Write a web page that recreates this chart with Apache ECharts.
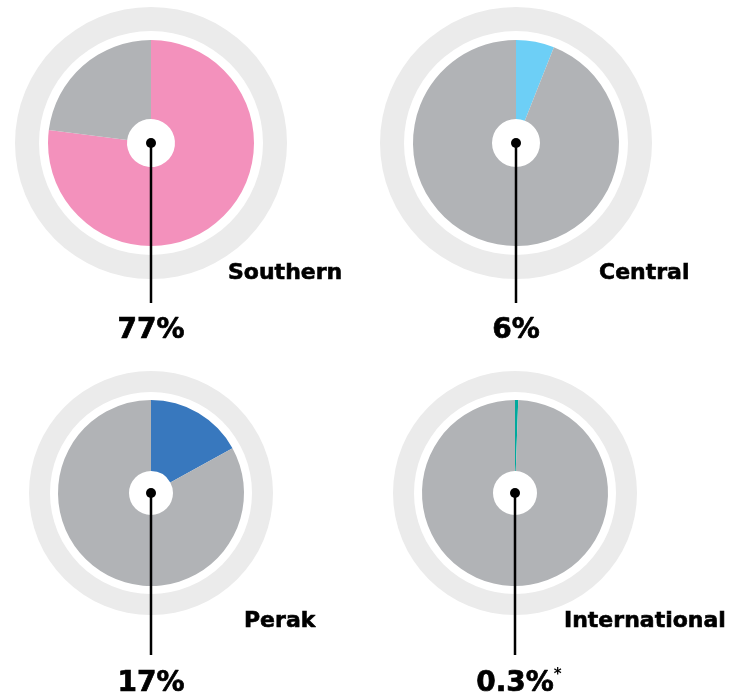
<!DOCTYPE html>
<html>
<head>
<meta charset="utf-8">
<title>Share by region</title>
<script src="https://cdn.jsdelivr.net/npm/echarts@6/dist/echarts.min.js"></script>
<style>
  html, body { margin: 0; padding: 0; background: #ffffff; }
  #chart { width: 741px; height: 697px; }
</style>
</head>
<body>
<div id="chart"></div>
<script>
// -- Data --
const regions = ['Southern', 'Central', 'Perak', 'International'];
const shares = [77, 6, 17, 0.3];
const shareLabels = ['77%', '6%', '17%', '0.3%'];
const footnotes = ['', '', '', '*'];
const sliceColors = ['#f391bc', '#6dcff6', '#3878be', '#00a99d'];

// -- Colours --
const REST_GRAY = '#b1b3b6';
const RING_GRAY = '#ebebeb';
const INK = '#000000';
const FONT = '"DejaVu Sans", "Liberation Sans", sans-serif';

// -- Layout per panel (pixels) --
const panels = [
  { cx: 151, cy: 143, ring: [112, 136], pie: [24, 103], lineEnd: 303, nameX: 228, nameY: 273, valueY: 331 },
  { cx: 516, cy: 143, ring: [112, 136], pie: [24, 103], lineEnd: 303, nameX: 599, nameY: 273, valueY: 331 },
  { cx: 151, cy: 493, ring: [101, 122], pie: [22, 93], lineEnd: 655, nameX: 244, nameY: 621, valueY: 684 },
  { cx: 515, cy: 493, ring: [101, 122], pie: [22, 93], lineEnd: 655, nameX: 564, nameY: 621, valueY: 684 }
];

// heavier-looking type: a thin outline in the same ink
const heavy = { stroke: INK, lineWidth: 0.7 };

const series = [];
const graphic = [];

regions.forEach((name, i) => {
  const p = panels[i];

  // pale outer ring
  series.push({
    type: 'pie',
    silent: true,
    center: [p.cx, p.cy],
    radius: p.ring,
    label: { show: false },
    labelLine: { show: false },
    itemStyle: { color: RING_GRAY },
    data: [{ value: 1, name: name + ' ring' }]
  });

  // share vs. rest (minAngle keeps the tiny slice visible)
  series.push({
    type: 'pie',
    silent: true,
    center: [p.cx, p.cy],
    radius: p.pie,
    startAngle: 90,
    clockwise: true,
    minAngle: 2,
    label: { show: false },
    labelLine: { show: false },
    itemStyle: { borderWidth: 0 },
    data: [
      { value: shares[i], name: name, itemStyle: { color: sliceColors[i] } },
      { value: 100 - shares[i], name: 'Other', itemStyle: { color: REST_GRAY } }
    ]
  });

  // pointer line from centre dot to value
  graphic.push({
    type: 'line',
    shape: { x1: p.cx, y1: p.cy, x2: p.cx, y2: p.lineEnd },
    style: { stroke: INK, lineWidth: 2.5 },
    z: 10
  });
  graphic.push({
    type: 'circle',
    shape: { cx: p.cx, cy: p.cy, r: 5 },
    style: { fill: INK },
    z: 11
  });

  // region name
  graphic.push({
    type: 'text',
    x: p.nameX,
    y: p.nameY,
    style: {
      text: name,
      fill: INK,
      stroke: INK,
      lineWidth: 0.6,
      font: 'bold 22px ' + FONT,
      textAlign: 'left',
      textVerticalAlign: 'middle'
    },
    z: 10
  });

  // value (hidden leading mark keeps the number centred on the line)
  const note = footnotes[i];
  graphic.push({
    type: 'text',
    x: p.cx,
    y: p.valueY,
    style: {
      text: note
        ? '{pad|' + note + '}{v|' + shareLabels[i] + '}{s|' + note + '}'
        : '{v|' + shareLabels[i] + '}',
      align: 'center',
      verticalAlign: 'middle',
      rich: {
        v: Object.assign({ fontFamily: FONT, fontWeight: 'bold', fontSize: 28, fill: INK, lineHeight: 32 }, heavy),
        s: { fontFamily: FONT, fontWeight: 'bold', fontSize: 15, fill: INK, verticalAlign: 'top', lineHeight: 32 },
        pad: { fontFamily: FONT, fontWeight: 'bold', fontSize: 15, fill: 'rgba(0,0,0,0)', verticalAlign: 'top', lineHeight: 32 }
      }
    },
    z: 10
  });
});

const chart = echarts.init(document.getElementById('chart'), null, { renderer: 'canvas' });
chart.setOption({
  backgroundColor: '#ffffff',
  animation: false,
  series,
  graphic
});
</script>
</body>
</html>
